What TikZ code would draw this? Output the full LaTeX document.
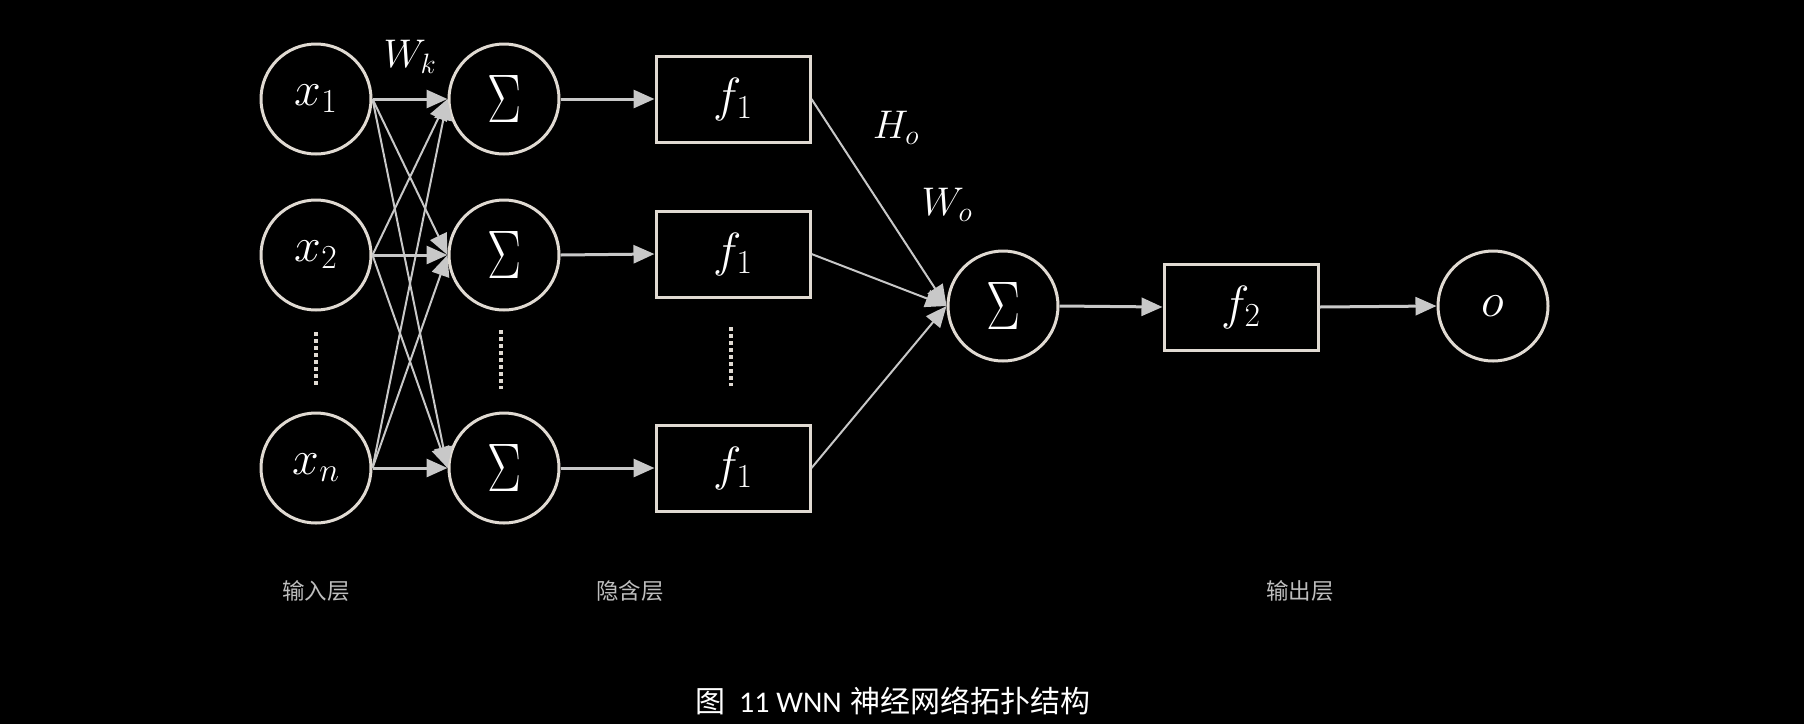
\RequirePackage{fix-cm}
\documentclass[tikz,border=0pt]{standalone}
\usepackage{fontspec}
\usepackage{graphicx}
\newfontfamily\cjk{Noto Sans CJK SC}
\newfontfamily\carl{Carlito}
\usetikzlibrary{arrows.meta}
\definecolor{edgec}{HTML}{E0DAD2}
\definecolor{arrc}{HTML}{C8C8C8}
\definecolor{labc}{HTML}{BEBEBE}
\tikzset{
  neuron/.style={circle,draw=edgec,line width=3pt,minimum size=110pt,inner sep=0pt,text=white,font=\fontsize{48}{52}\selectfont},
  fbox/.style={rectangle,draw=edgec,line width=3pt,minimum width=154pt,minimum height=86pt,inner sep=0pt,text=white,font=\fontsize{48}{52}\selectfont},
  arr/.style={draw=arrc,line width=3pt,-{Triangle[length=21pt,width=18pt]},arrc},
  thinarr/.style={draw=arrc,line width=2pt,-{Triangle[length=21pt,width=18pt]},arrc},
  dotline/.style={draw=edgec,line width=4pt,dash pattern=on 4pt off 3pt},
  wlab/.style={text=white,font=\fontsize{40}{44}\selectfont,inner sep=0pt},
  layerlab/.style={text=labc,font=\cjk\fontsize{22.5}{26}\selectfont,inner sep=0pt},
  caplab/.style={text=white,font=\fontsize{30}{34}\selectfont,inner sep=0pt}
}
\newcommand{\bigsig}{\raisebox{-3pt}{\resizebox{34pt}{47pt}{$\Sigma$}}}
\begin{document}
\begin{tikzpicture}[x=1pt,y=-1pt]
\fill[black] (0,0) rectangle (1804,724);
\useasboundingbox (0,0) rectangle (1804,724);
% input layer
\node[neuron] (x1) at (316,99) {$x_1$};
\node[neuron] (x2) at (316,255) {$x_2$};
\node[neuron] (xn) at (316,468) {$x_n$};
% hidden sums
\node[neuron] (s1) at (504,99) {\bigsig};
\node[neuron] (s2) at (504,255) {\bigsig};
\node[neuron] (s3) at (504,468) {\bigsig};
% f1 boxes
\node[fbox] (fa) at (733,99) {$f_1$};
\node[fbox] (fb) at (733,254) {$f_1$};
\node[fbox] (fc) at (733,468) {$f_1$};
% output
\node[neuron] (so) at (1003,306) {\bigsig};
\node[fbox] (f2) at (1241,307) {$f_2$};
\node[neuron] (o) at (1493,306) {$o$};
% dots
\coordinate (d1a) at (316,332); \coordinate (d1b) at (316,386);
\coordinate (d2a) at (501,330); \coordinate (d2b) at (501,389);
\coordinate (d3a) at (731,327); \coordinate (d3b) at (731,386);
\draw[dotline] (d1a) -- (d1b);
\draw[dotline] (d2a) -- (d2b);
\draw[dotline] (d3a) -- (d3b);
% input to hidden
\draw[arr] (x1.east) -- (s1.west);
\draw[arr] (x2.east) -- (s2.west);
\draw[arr] (xn.east) -- (s3.west);
\draw[thinarr] (x1.east) -- (s2.west);
\draw[thinarr] (x1.east) -- (s3.west);
\draw[thinarr] (x2.east) -- (s1.west);
\draw[thinarr] (x2.east) -- (s3.west);
\draw[thinarr] (xn.east) -- (s1.west);
\draw[thinarr] (xn.east) -- (s2.west);
% hidden sums to f1
\draw[arr] (s1.east) -- (fa.west);
\draw[arr] (s2.east) -- (fb.west);
\draw[arr] (s3.east) -- (fc.west);
% f1 to output sum
\draw[thinarr] (fa.east) -- (so.west);
\draw[thinarr] (fb.east) -- (so.west);
\draw[thinarr] (fc.east) -- (so.west);
% output chain
\draw[arr] (so.east) -- (f2.west);
\draw[arr] (f2.east) -- (o.west);
% weight labels
\node[wlab] (wk) at (410,57) {$W_k$};
\node[wlab] (ho) at (896,128) {$H_o$};
\node[wlab] (wo) at (947,205) {$W_o$};
% layer labels
\node[layerlab] (l1) at (316,591) {输入层};
\node[layerlab] (l2) at (630,591) {隐含层};
\node[layerlab] (l3) at (1300,591) {输出层};
% caption
\node[caplab] (cap) at (893,701) {{\cjk 图}\hspace{14pt}{\carl 11 WNN} {\cjk 神经网络拓扑结构}};
\end{tikzpicture}
\end{document}
